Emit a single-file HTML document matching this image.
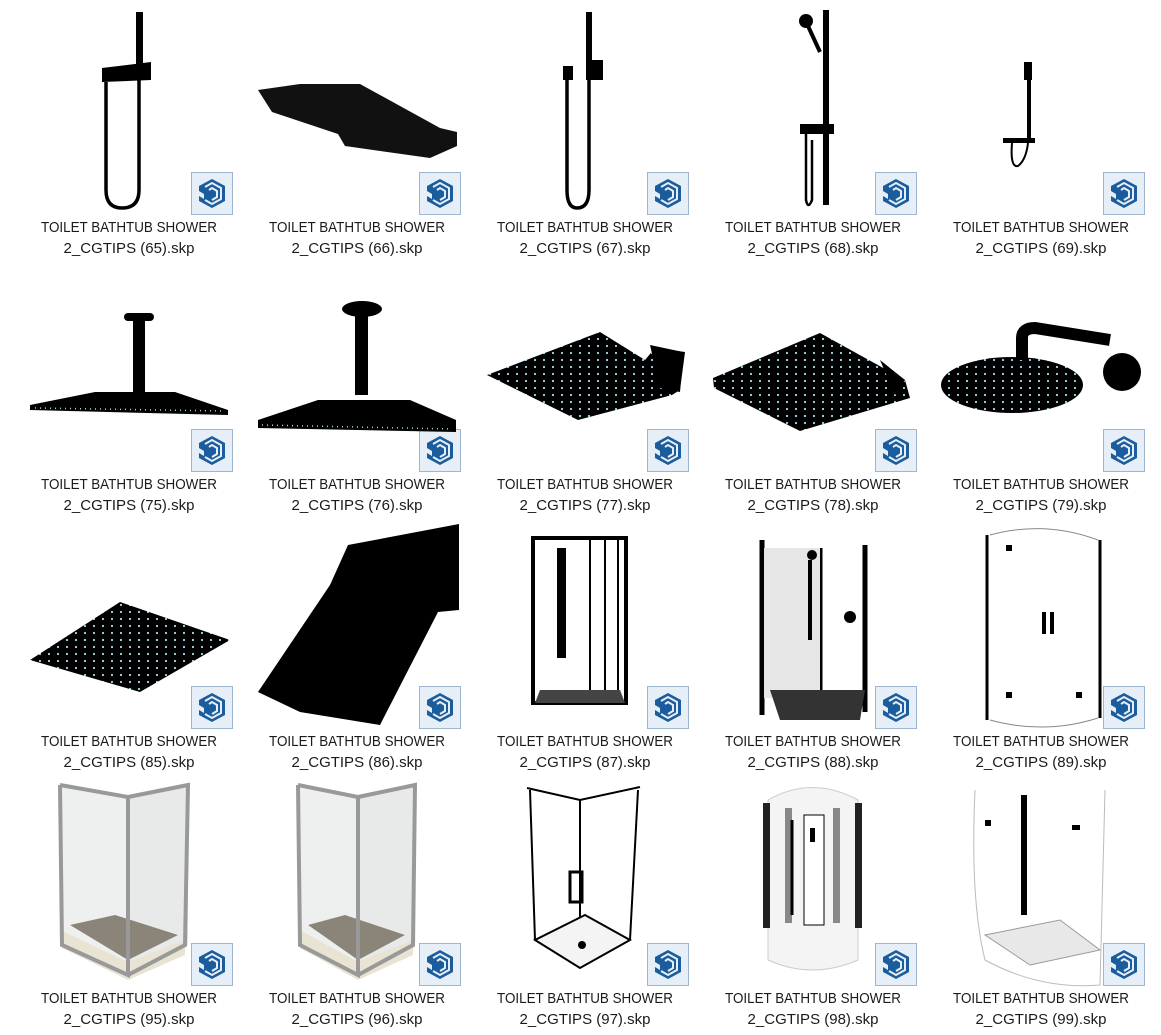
<!DOCTYPE html>
<html><head><meta charset="utf-8"><style>
html,body{margin:0;padding:0;background:#fff;}
svg{display:block}
text{font-family:"Liberation Sans",sans-serif;font-size:15px;fill:#1a1a1a}
</style></head><body>
<svg width="1161" height="1035" viewBox="0 0 1161 1035" xmlns="http://www.w3.org/2000/svg">
<defs>
<g id="ico">
<rect x="0.5" y="0.5" width="41" height="42" fill="#e6eef7" stroke="#9fb6cf"/>
<g fill="#1b5c9c">
<path d="M21 7 L34 14 L34 29 L21 36 L8 29 L8 24 L13 27 L13 22 L8 19 L8 14 Z"/>
</g>
<g fill="none" stroke="#e6eef7" stroke-width="2">
<path d="M14 15 L21 11 L30 16 L30 27 L21 32 L14 28"/>
<path d="M18 18 L21 16 L26 19 L26 25 L21 28"/>
</g>
</g>
<pattern id="dp" width="9" height="7" patternUnits="userSpaceOnUse"><rect width="9" height="7" fill="#000"/><circle cx="4" cy="3" r="1.1" fill="#a8dbe8"/></pattern>
</defs>

<g>
<use href="#ico" x="191" y="172"/><use href="#ico" x="419" y="172"/><use href="#ico" x="647" y="172"/><use href="#ico" x="875" y="172"/><use href="#ico" x="1103" y="172"/>
<use href="#ico" x="191" y="429"/><use href="#ico" x="419" y="429"/><use href="#ico" x="647" y="429"/><use href="#ico" x="875" y="429"/><use href="#ico" x="1103" y="429"/>
<use href="#ico" x="191" y="686"/><use href="#ico" x="419" y="686"/><use href="#ico" x="647" y="686"/><use href="#ico" x="875" y="686"/><use href="#ico" x="1103" y="686"/>
<use href="#ico" x="191" y="943"/><use href="#ico" x="419" y="943"/><use href="#ico" x="647" y="943"/><use href="#ico" x="875" y="943"/><use href="#ico" x="1103" y="943"/>
</g>

<g text-anchor="middle">
<text x="129" y="232" textLength="176" lengthAdjust="spacingAndGlyphs">TOILET BATHTUB SHOWER</text><text x="129" y="253">2_CGTIPS (65).skp</text>
<text x="357" y="232" textLength="176" lengthAdjust="spacingAndGlyphs">TOILET BATHTUB SHOWER</text><text x="357" y="253">2_CGTIPS (66).skp</text>
<text x="585" y="232" textLength="176" lengthAdjust="spacingAndGlyphs">TOILET BATHTUB SHOWER</text><text x="585" y="253">2_CGTIPS (67).skp</text>
<text x="813" y="232" textLength="176" lengthAdjust="spacingAndGlyphs">TOILET BATHTUB SHOWER</text><text x="813" y="253">2_CGTIPS (68).skp</text>
<text x="1041" y="232" textLength="176" lengthAdjust="spacingAndGlyphs">TOILET BATHTUB SHOWER</text><text x="1041" y="253">2_CGTIPS (69).skp</text>
<text x="129" y="489" textLength="176" lengthAdjust="spacingAndGlyphs">TOILET BATHTUB SHOWER</text><text x="129" y="510">2_CGTIPS (75).skp</text>
<text x="357" y="489" textLength="176" lengthAdjust="spacingAndGlyphs">TOILET BATHTUB SHOWER</text><text x="357" y="510">2_CGTIPS (76).skp</text>
<text x="585" y="489" textLength="176" lengthAdjust="spacingAndGlyphs">TOILET BATHTUB SHOWER</text><text x="585" y="510">2_CGTIPS (77).skp</text>
<text x="813" y="489" textLength="176" lengthAdjust="spacingAndGlyphs">TOILET BATHTUB SHOWER</text><text x="813" y="510">2_CGTIPS (78).skp</text>
<text x="1041" y="489" textLength="176" lengthAdjust="spacingAndGlyphs">TOILET BATHTUB SHOWER</text><text x="1041" y="510">2_CGTIPS (79).skp</text>
<text x="129" y="746" textLength="176" lengthAdjust="spacingAndGlyphs">TOILET BATHTUB SHOWER</text><text x="129" y="767">2_CGTIPS (85).skp</text>
<text x="357" y="746" textLength="176" lengthAdjust="spacingAndGlyphs">TOILET BATHTUB SHOWER</text><text x="357" y="767">2_CGTIPS (86).skp</text>
<text x="585" y="746" textLength="176" lengthAdjust="spacingAndGlyphs">TOILET BATHTUB SHOWER</text><text x="585" y="767">2_CGTIPS (87).skp</text>
<text x="813" y="746" textLength="176" lengthAdjust="spacingAndGlyphs">TOILET BATHTUB SHOWER</text><text x="813" y="767">2_CGTIPS (88).skp</text>
<text x="1041" y="746" textLength="176" lengthAdjust="spacingAndGlyphs">TOILET BATHTUB SHOWER</text><text x="1041" y="767">2_CGTIPS (89).skp</text>
<text x="129" y="1003" textLength="176" lengthAdjust="spacingAndGlyphs">TOILET BATHTUB SHOWER</text><text x="129" y="1024">2_CGTIPS (95).skp</text>
<text x="357" y="1003" textLength="176" lengthAdjust="spacingAndGlyphs">TOILET BATHTUB SHOWER</text><text x="357" y="1024">2_CGTIPS (96).skp</text>
<text x="585" y="1003" textLength="176" lengthAdjust="spacingAndGlyphs">TOILET BATHTUB SHOWER</text><text x="585" y="1024">2_CGTIPS (97).skp</text>
<text x="813" y="1003" textLength="176" lengthAdjust="spacingAndGlyphs">TOILET BATHTUB SHOWER</text><text x="813" y="1024">2_CGTIPS (98).skp</text>
<text x="1041" y="1003" textLength="176" lengthAdjust="spacingAndGlyphs">TOILET BATHTUB SHOWER</text><text x="1041" y="1024">2_CGTIPS (99).skp</text>
</g>

<!-- 65 -->
<rect x="136" y="12" width="7" height="55" fill="#000"/>
<path d="M102 68 L151 62 L151 80 L102 82 Z" fill="#000"/>
<path d="M106 82 L106 190 Q106 208 122 208 Q139 208 139 190 L139 78" fill="none" stroke="#000" stroke-width="3.5"/>
<!-- 66 -->
<path d="M258 90 L300 84 L360 84 L440 128 L457 132 L457 146 L430 158 L345 146 L338 134 L272 112 Z" fill="#111"/>
<!-- 67 -->
<rect x="586" y="12" width="6" height="55" fill="#000"/>
<rect x="586" y="60" width="17" height="20" fill="#000"/>
<rect x="563" y="66" width="10" height="14" fill="#000"/>
<path d="M567 80 L567 190 Q567 208 577 208 Q589 208 589 190 L589 80" fill="none" stroke="#000" stroke-width="3.5"/>
<!-- 68 -->
<rect x="823" y="10" width="6" height="195" fill="#000"/>
<circle cx="806" cy="21" r="7" fill="#000"/>
<path d="M808 26 L820 52" stroke="#000" stroke-width="4"/>
<rect x="800" y="124" width="34" height="10" fill="#000"/>
<path d="M806 134 L806 200 Q808 210 812 200 L812 140" fill="none" stroke="#000" stroke-width="2.5"/>
<!-- 69 -->
<rect x="1027" y="62" width="4" height="80" fill="#000"/>
<rect x="1024" y="62" width="8" height="18" fill="#000"/>
<rect x="1003" y="138" width="32" height="5" fill="#000"/>
<path d="M1012 143 Q1010 168 1018 166 Q1026 160 1028 143" fill="none" stroke="#000" stroke-width="2"/>

<!-- 75 -->
<rect x="124" y="313" width="30" height="8" rx="4" fill="#000"/>
<rect x="133" y="318" width="12" height="75" fill="#000"/>
<path d="M30 405 L95 392 L175 392 L228 410 L228 415 L30 410 Z" fill="#000"/>
<path d="M35 408 L225 411" stroke="#9fd6e8" stroke-width="1.5" stroke-dasharray="1 4"/>
<!-- 76 -->
<ellipse cx="362" cy="309" rx="20" ry="8" fill="#000"/>
<rect x="355" y="312" width="13" height="83" fill="#000"/>
<path d="M258 420 L318 400 L410 400 L456 420 L456 432 L258 428 Z" fill="#000"/>
<path d="M262 425 L452 429" stroke="#9fd6e8" stroke-width="1.5" stroke-dasharray="1 4"/>
<!-- 77 -->
<path d="M487 375 L600 332 L645 360 L655 348 L685 352 L680 390 L672 395 L578 420 Z" fill="url(#dp)"/>
<path d="M650 345 L683 352 L680 392 L660 388 Z" fill="#000"/>
<!-- 78 -->
<path d="M713 378 L820 333 L905 380 L910 398 L800 431 L714 388 Z" fill="url(#dp)"/>
<path d="M880 360 L905 380 L895 395 Z" fill="#000"/>
<!-- 79 -->
<ellipse cx="1012" cy="385" rx="71" ry="28" fill="url(#dp)"/>
<path d="M1022 360 L1022 338 Q1022 328 1035 328 L1110 340" fill="none" stroke="#000" stroke-width="12"/>
<circle cx="1122" cy="372" r="19" fill="#000"/>

<!-- 85 -->
<path d="M30 660 L120 602 L230 640 L140 692 Z" fill="url(#dp)"/>
<!-- 86 -->
<path d="M258 692 L330 585 L348 545 L459 524 L459 610 L438 612 L380 725 L300 712 Z" fill="#000"/>
<!-- 87 -->
<rect x="533" y="538" width="93" height="165" fill="none" stroke="#000" stroke-width="4"/>
<path d="M590 540 L590 700 M605 540 L605 700 M618 540 L618 700" stroke="#000" stroke-width="2"/>
<rect x="557" y="548" width="9" height="110" fill="#000"/>
<path d="M540 690 L620 690 L625 703 L535 703 Z" fill="#444"/>
<!-- 88 -->
<path d="M762 540 L762 715 M865 545 L865 712 M820 548 L820 712" stroke="#000" stroke-width="5"/>
<rect x="764" y="548" width="56" height="150" fill="#e6e6e6"/>
<rect x="808" y="560" width="4" height="80" fill="#000"/>
<circle cx="812" cy="555" r="5" fill="#000"/><circle cx="850" cy="617" r="6" fill="#000"/>
<path d="M770 690 L865 690 L860 720 L780 720 Z" fill="#333"/>
<!-- 89 -->
<path d="M987 535 L987 720 M1100 540 L1100 718" stroke="#000" stroke-width="3"/>
<path d="M990 535 Q1045 520 1098 540" fill="none" stroke="#888"/>
<path d="M990 720 Q1045 735 1098 718" fill="none" stroke="#888"/>
<rect x="1042" y="612" width="4" height="22" fill="#000"/><rect x="1050" y="612" width="4" height="22" fill="#000"/>
<rect x="1006" y="545" width="6" height="6" fill="#000"/><rect x="1006" y="692" width="6" height="6" fill="#000"/>
<rect x="1076" y="692" width="6" height="6" fill="#000"/>

<!-- 95 -->
<path d="M58 785 L128 797 L128 975 L62 945 Z" fill="#eef0f0"/>
<path d="M128 797 L188 785 L188 945 L128 975 Z" fill="#e8eaea"/>
<path d="M70 925 L115 915 L178 935 L128 960 Z" fill="#8a8578"/>
<path d="M60 930 L128 962 L185 940 L185 955 L128 980 L62 948 Z" fill="#e9e3d3"/>
<path d="M60 785 L62 945 L128 975 L128 797 L60 785 M128 797 L188 785 L185 945 L128 975" fill="none" stroke="#999" stroke-width="4"/>
<!-- 96 -->
<path d="M298 785 L358 797 L358 975 L300 945 Z" fill="#eef0f0"/>
<path d="M358 797 L415 785 L413 945 L358 975 Z" fill="#e8eaea"/>
<path d="M308 925 L345 915 L405 935 L358 960 Z" fill="#8a8578"/>
<path d="M300 930 L358 962 L413 940 L413 955 L358 980 L300 948 Z" fill="#e9e3d3"/>
<path d="M298 785 L300 945 L358 975 L358 797 L298 785 M358 797 L415 785 L413 945 L358 975" fill="none" stroke="#999" stroke-width="4"/>
<!-- 97 -->
<path d="M527 788 L580 800 L640 787 M530 790 L535 940 M638 790 L630 940 M580 800 L580 968" fill="none" stroke="#000" stroke-width="2"/>
<path d="M535 940 L580 968 L630 940 L585 915 Z" fill="#f4f4f4" stroke="#000" stroke-width="2"/>
<rect x="570" y="872" width="12" height="30" fill="none" stroke="#000" stroke-width="3"/>
<circle cx="582" cy="945" r="4" fill="#000"/>
<!-- 98 -->
<path d="M768 800 Q812 775 858 800 L858 960 Q812 980 768 960 Z" fill="#f4f4f4" stroke="#ccc"/>
<rect x="763" y="803" width="7" height="125" fill="#222"/><rect x="855" y="803" width="7" height="125" fill="#222"/>
<rect x="785" y="808" width="7" height="115" fill="#888"/><rect x="833" y="808" width="7" height="115" fill="#888"/>
<rect x="804" y="815" width="20" height="110" fill="#fff" stroke="#000"/>
<path d="M792 820 L792 915" stroke="#000" stroke-width="3"/>
<rect x="810" y="828" width="5" height="14" fill="#000"/>
<!-- 99 -->
<path d="M975 790 Q970 900 985 960 Q1040 990 1100 985 L1105 790" fill="none" stroke="#bbb"/>
<rect x="1021" y="795" width="6" height="120" fill="#000"/>
<path d="M985 935 L1060 920 L1100 950 L1030 965 Z" fill="#e8e8e8" stroke="#999"/>
<rect x="985" y="820" width="6" height="6" fill="#000"/><rect x="1072" y="825" width="8" height="5" fill="#000"/>
</svg>
</body></html>
